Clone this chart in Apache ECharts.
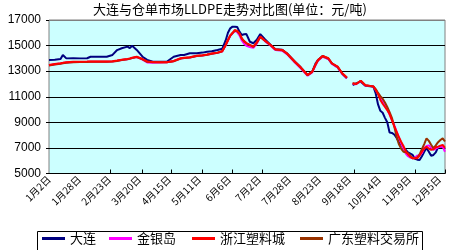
<!DOCTYPE html>
<html><head><meta charset="utf-8">
<script src="https://cdn.jsdelivr.net/npm/echarts@6/dist/echarts.min.js"></script>
<style>html,body{margin:0;padding:0;background:#fff}#c{width:450px;height:250px}</style>
</head><body><div id="c"></div>
<script>
// day offsets since 1月2日
const days = [0,5,10,12,15,21,27,33,36,40,44,50,55,59,63,68,70,72,76,81,85,90,96,102,108,114,117,122,128,133,137,141,146,150,
153,155,157,159,161,163,165,167,169,171,174,177,180,183,187,192,196,202,206,213,218,224,228,231,233,237,242,245,250,254,258,
261,
263,266,270,274,278,281,283,285,287,289,291,293,295,297,299,301,303,305,307,309,311,313,315,317,319,321,323,325,327,329,331,333,335,337,339,341,343];

const dalian = [13880,13900,13950,14270,14000,14010,14000,14010,14130,14130,14130,14130,14270,14650,14790,14920,14800,14990,14660,14130,13880,13740,13740,13740,14130,14270,14270,14400,14400,14450,14520,14550,14660,14750,
15400,16000,16350,16480,16480,16450,16090,15830,15880,15900,15300,15180,15450,15900,15500,15050,14710,14680,14400,13740,13300,12700,12960,13620,13880,14190,13950,13620,13300,12800,12440,
null,
11920,12050,12180,11850,11820,11790,11250,10400,9900,9750,9350,9000,8200,8170,8050,7800,7450,7250,7000,6850,6650,6550,6450,6150,6080,6060,6350,6700,7000,6700,6380,6450,6650,7050,7100,7080,6900];

const jinyindao = [13470,13540,13600,13630,13680,13720,13720,13730,13740,13740,13740,13740,13760,13810,13880,13940,13980,14030,14100,13900,13680,13650,13680,13690,13780,13990,14020,14070,14190,14230,14280,14360,14430,14540,
15000,15400,15750,15950,16150,16050,15800,15400,15150,14980,14880,14820,15150,15700,15350,14980,14650,14600,14330,13680,13230,12640,12900,13480,13820,14120,13950,13560,13290,12780,12450,
null,
12000,11980,12220,11880,11850,11800,11530,11250,10950,10600,10300,10000,9600,9200,8800,8300,7850,7350,6950,6550,6350,6250,6190,6250,6400,6450,6600,7000,7150,7200,7000,6850,6950,7050,7100,7100,6700];

const zhejiang = [13490,13560,13620,13650,13700,13740,13740,13750,13760,13760,13760,13760,13780,13830,13900,13960,14000,14050,14130,13950,13760,13720,13700,13700,13800,14010,14040,14090,14210,14250,14300,14380,14450,14560,
15050,15440,15800,16000,16220,16150,15950,15570,15350,15200,15050,14920,15250,15700,15400,15050,14710,14660,14400,13740,13300,12700,12960,13550,13880,14190,14010,13620,13350,12840,12500,
null,
12050,12000,12250,11900,11850,11800,11530,11200,10750,10450,10200,9950,9650,9180,8700,8300,7850,7480,7150,6750,6500,6300,6190,6190,6190,6400,6700,6950,7080,6950,6850,6900,7050,7100,7180,7230,7000];

const guangdong = [13450,13520,13580,13610,13660,13700,13710,13720,13730,13730,13730,13730,13750,13800,13870,13930,13970,14020,14100,13930,13730,13700,13690,13690,13780,13980,14020,14070,14190,14230,14280,14360,14440,14560,
15030,15420,15780,15980,16150,16120,15930,15550,15330,15180,15030,14900,15230,15680,15380,15030,14690,14640,14380,13720,13280,12680,12940,13530,13860,14170,13990,13600,13330,12820,12480,
null,
12050,12000,12250,11900,11850,11800,11600,11300,11050,10850,10550,10200,9800,9350,8700,7900,7300,6950,6700,6650,6580,6400,6200,6200,6250,6500,6900,7300,7750,7550,7250,6970,7200,7450,7620,7750,7500];

const xLabels = ['1月2日','1月28日','2月23日','3月20日','4月15日','5月11日','6月6日','7月2日','7月28日','8月23日','9月18日','10月14日','11月9日','12月5日'];
const labelDays = [0,26,52,78,104,130,156,182,208,234,260,286,312,338];
const tickDays = [53,81,106,133,159,185,264,317,343];

const seriesNames = ['大连','金银岛','浙江塑料城','广东塑料交易所'];
const seriesColors = ['#000080','#FF00FF','#FF0000','#993300'];
const seriesValues = [dalian, jinyindao, zhejiang, guangdong];

const chart = echarts.init(document.getElementById('c'), null, {renderer:'canvas'});
const mk = (vals) => days.map((d,i) => [d, vals[i] == null ? '-' : vals[i]]);
const drawOrder = [0,1,3,2];
const series = drawOrder.map(i => ({
  name: seriesNames[i], type:'line', data: mk(seriesValues[i]),
  showSymbol:false, symbol:'none', connectNulls:false,
  lineStyle:{color:seriesColors[i], width:2}, itemStyle:{color:seriesColors[i]},
  z: 2 + drawOrder.indexOf(i), animation:false
}));
const legendLefts = [42, 109, 192, 300];
const legends = seriesNames.map((n,i) => ({
  data:[n], left: legendLefts[i], top: 232, padding:0, icon:'rect', itemWidth:23, itemHeight:3,
  textStyle:{fontSize:13, color:'#000', fontFamily:'"Noto Sans CJK SC"'}
}));
chart.setOption({
  animation:false,
  backgroundColor:'#fff',
  title:{text:'大连与仓单市场LLDPE走势对比图(单位：元/吨)', left:93, top:3, padding:0,
    textStyle:{fontSize:13, fontWeight:'normal', color:'#000', fontFamily:'"Noto Sans CJK SC"'}},
  legend: legends,
  graphic:[{type:'rect', shape:{x:37.5, y:231.5, width:385, height:30}, style:{fill:'none', stroke:'#000', lineWidth:1}, z:-1}],
  grid:{left:49, top:20, width:396, height:153.5, show:true, backgroundColor:'#CCFFFF', borderColor:'#808080', borderWidth:1},
  xAxis:{type:'value', min:0, max:343,
    axisLine:{show:true, lineStyle:{color:'#000', width:1}},
    axisTick:{show:true, inside:true, length:4, customValues:tickDays, lineStyle:{color:'#000'}},
    axisLabel:{customValues:labelDays, rotate:45, fontSize:10, color:'#000', margin:4, fontFamily:'"Noto Sans CJK SC"',
      formatter:(v)=>{const k=labelDays.indexOf(Math.round(v)); return k>=0?xLabels[k]:'';}},
    splitLine:{show:false}},
  yAxis:{type:'value', min:5000, max:17000, interval:2000,
    axisLine:{show:false},
    axisTick:{show:true, length:3, lineStyle:{color:'#000'}},
    axisLabel:{fontSize:12, color:'#000', margin:8, fontFamily:'"Liberation Sans"', formatter:(v)=>String(v)},
    splitLine:{show:true, lineStyle:{color:['#000','#000','#000','#000','#000','#000','#808080'], width:1}}},
  series: series
});
</script></body></html>
